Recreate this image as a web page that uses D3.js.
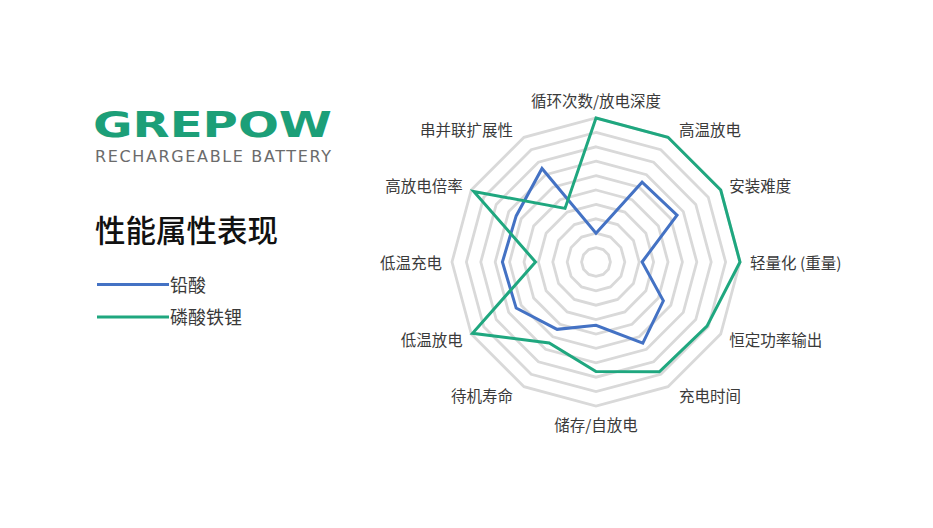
<!DOCTYPE html>
<html>
<head>
<meta charset="utf-8">
<script src="https://cdn.jsdelivr.net/npm/d3@7"></script>
<style>
  html, body { margin: 0; padding: 0; background: #ffffff; }
  svg { display: block; font-family: "Noto Sans CJK SC", "Noto Sans", sans-serif; }
</style>
</head>
<body>
<svg id="chart" width="933" height="528"></svg>
<script>
// ---- data ----
const axes = ["循环次数/放电深度", "高温放电", "安装难度", "轻量化 (重量)", "恒定功率输出", "充电时间",
              "储存/自放电", "待机寿命", "低温放电", "低温充电", "高放电倍率", "串并联扩展性"];
const seriesNames = ["铅酸", "磷酸铁锂"];
const leadAcid = [2, 6.4, 6.5, 3.2, 5.4, 6.5, 4.4, 5.4, 6.4, 6.5, 6.4, 7.5];
const lfp      = [10, 10, 10, 10, 8.9, 8.8, 7.6, 6.5, 9.9, 4.2, 9.8, 4.3];
const ringLevels = [1, 2, 3, 4, 5, 6, 7, 8, 9, 10];
const maxValue = 10;

const titleText = "性能属性表现";
const logoText = "GREPOW";
const logoSub = "RECHARGEABLE BATTERY";

// ---- layout ----
const svg = d3.select("#chart");
svg.append("rect").attr("width", 933).attr("height", 528).attr("fill", "#ffffff");

const cx = 596, cy = 262, R = 144;
const colors = ["#4472c4", "#1fa77f"];

const rScale = d3.scaleLinear().domain([0, maxValue]).range([0, R]);
const aScale = d3.scaleLinear().domain([0, axes.length]).range([0, 2 * Math.PI]);

const g = svg.append("g").attr("transform", `translate(${cx},${cy})`);

// grid rings (12-gon)
const ringLine = d3.lineRadial()
  .angle((d, i) => aScale(i))
  .radius(d => rScale(d))
  .curve(d3.curveLinearClosed);

g.selectAll("path.ring")
  .data(ringLevels)
  .join("path")
  .attr("class", "ring")
  .attr("d", lv => ringLine(axes.map(() => lv)))
  .attr("fill", "none")
  .attr("stroke", "#d9d9d9")
  .attr("stroke-width", 2.8);

// series
const seriesData = [leadAcid, lfp];
g.selectAll("path.series")
  .data(seriesData)
  .join("path")
  .attr("class", "series")
  .attr("d", d => ringLine(d))
  .attr("fill", "none")
  .attr("stroke", (d, i) => colors[i])
  .attr("stroke-width", 3)
  .attr("stroke-linejoin", "miter");

// axis labels
axes.forEach((name, i) => {
  const a = aScale(i);
  const dx = Math.sin(a), dy = -Math.cos(a);
  const vertical = Math.abs(dx) < 0.1;
  const d = vertical ? R + 18 : R + 10;
  let x = d * dx, y = d * dy;
  if (!vertical && Math.abs(dy) > 0.8) x += 6 * Math.sign(dx);
  const anchor = vertical ? "middle" : (dx > 0 ? "start" : "end");
  g.append("text")
    .attr("x", x)
    .attr("y", y)
    .attr("text-anchor", anchor)
    .attr("dominant-baseline", "central")
    .attr("font-size", 15.5)
    .attr("fill", "#3a3a3a")
    .text(name);
});

// ---- left panel: logo ----
svg.append("text")
  .attr("x", 93)
  .attr("y", 137)
  .attr("font-family", "DejaVu Sans, sans-serif")
  .attr("font-weight", "bold")
  .attr("font-size", 36)
  .attr("fill", "#1c9f78")
  .attr("textLength", 239)
  .attr("lengthAdjust", "spacingAndGlyphs")
  .text(logoText);

svg.append("text")
  .attr("x", 95)
  .attr("y", 161.5)
  .attr("font-family", "DejaVu Sans, sans-serif")
  .attr("font-size", 16)
  .attr("fill", "#6b6b6b")
  .attr("textLength", 236)
  .attr("lengthAdjust", "spacing")
  .text(logoSub);

// title
svg.append("text")
  .attr("x", 95)
  .attr("y", 228.5)
  .attr("dominant-baseline", "central")
  .attr("font-size", 30.5)
  .attr("font-weight", 500)
  .attr("fill", "#111111")
  .text(titleText);

// legend
const legendY = [284.5, 317];
seriesNames.forEach((name, i) => {
  svg.append("line")
    .attr("x1", 97).attr("x2", 169)
    .attr("y1", legendY[i]).attr("y2", legendY[i])
    .attr("stroke", colors[i])
    .attr("stroke-width", 3);
  svg.append("text")
    .attr("x", 170)
    .attr("y", legendY[i] - 1)
    .attr("dominant-baseline", "central")
    .attr("font-size", 18)
    .attr("fill", "#3a3a3a")
    .text(name);
});
</script>
</body>
</html>
